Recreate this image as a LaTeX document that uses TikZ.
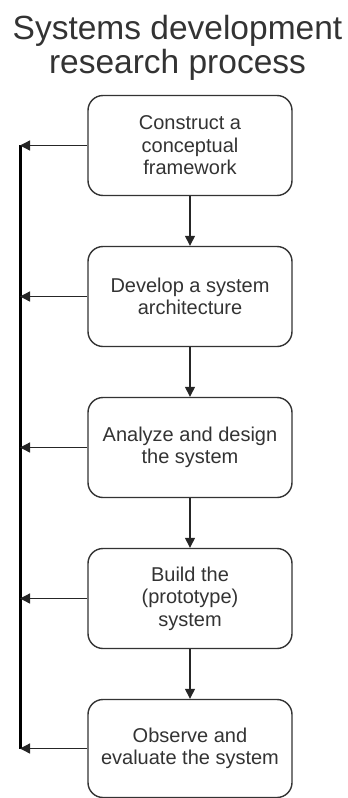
\documentclass[tikz,border=0pt]{standalone}
\usepackage{fontspec}
\setmainfont{Liberation Sans}
\usetikzlibrary{arrows.meta}
\definecolor{txt}{HTML}{333333}
\tikzset{
  stepbox/.style={draw=black!80, line width=1.4pt, rounded corners=15pt,
    minimum width=204pt, minimum height=100pt, align=center,
    font=\fontsize{20pt}{22.5pt}\selectfont, text=txt, inner sep=0pt},
  flow/.style={draw=black!85, line width=1.3pt, -{Triangle[length=10pt,width=10pt]}},
  spine/.style={draw=black, line width=3pt}
}
\begin{document}
\begin{tikzpicture}[x=1pt,y=-1pt]
\useasboundingbox (0,0) rectangle (348,798);
\node[font=\fontsize{33.5pt}{34pt}\selectfont, text=txt, align=center, anchor=base] (title) at (177.5,39) {Systems development};
\node[font=\fontsize{33.5pt}{34pt}\selectfont, text=txt, align=center, anchor=base] (title2) at (177.5,73) {research process};
\node[stepbox] (b1) at (190,145.5) {Construct a\\conceptual\\framework};
\node[stepbox] (b2) at (190,296.5) {Develop a system\\architecture};
\node[stepbox] (b3) at (190,447.5) {Analyze and design\\the system};
\node[stepbox] (b4) at (190,598.5) {Build the\\(prototype)\\system};
\node[stepbox, minimum height=98pt] (b5) at (190,748.5) {Observe and\\evaluate the system};
\coordinate (t1) at (20,145.5);
\coordinate (t2) at (20,296.5);
\coordinate (t3) at (20,447.5);
\coordinate (t4) at (20,598.5);
\coordinate (t5) at (20,748.5);
\draw[spine] ([yshift=0.8pt]t1) -- ([yshift=-0.8pt]t5);
\foreach \i in {1,...,5} {\draw[flow] (b\i.west) -- (t\i);}
\draw[flow] (b1) -- (b2);
\draw[flow] (b2) -- (b3);
\draw[flow] (b3) -- (b4);
\draw[flow] (b4) -- (b5);
\end{tikzpicture}
\end{document}
